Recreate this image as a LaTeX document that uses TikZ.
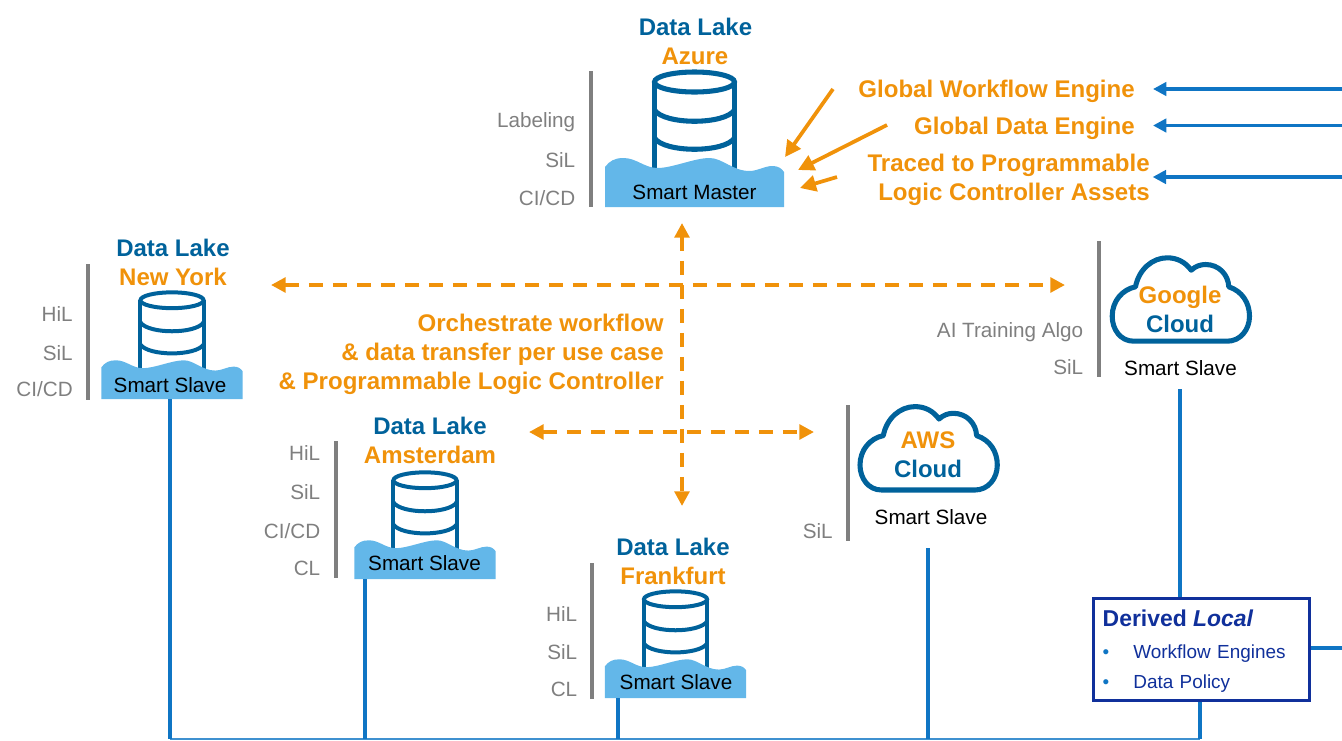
\documentclass[tikz,border=0pt]{standalone}
\usepackage{fontspec}
\setmainfont{Liberation Sans}
\usepackage{xcolor}
\usetikzlibrary{arrows.meta, positioning}
\definecolor{lakeblue}{RGB}{0,98,155}
\definecolor{waterblue}{RGB}{99,183,233}
\definecolor{lineblue}{RGB}{15,117,196}
\definecolor{accent}{RGB}{240,146,10}
\definecolor{barGray}{RGB}{127,127,127}
\definecolor{boxNavy}{RGB}{16,48,155}
\tikzstyle{title} = [font=\bfseries\fontsize{18}{18}\selectfont, text=lakeblue, inner sep=0pt]
\tikzstyle{site} = [title, text=accent]
\tikzstyle{tag} = [font=\fontsize{15.5}{15.5}\selectfont, text=barGray, anchor=east, inner sep=0pt]
\tikzstyle{role} = [font=\fontsize{15.5}{15.5}\selectfont, text=black, inner sep=0pt]
\tikzstyle{bar} = [draw=barGray, line width=2.8pt]
\tikzstyle{link} = [draw=lineblue, line width=2.6pt]
\tikzstyle{duty} = [font=\bfseries\fontsize{18.05}{21.75}\selectfont, text=accent, anchor=east, align=right, inner sep=0pt]
\tikzstyle{feed} = [line width=2.5pt, draw=lineblue, -{Triangle[length=10pt,width=10pt]}, shorten >=13.5pt]
\tikzstyle{push} = [line width=2.8pt, draw=accent, -{Triangle[length=12pt,width=12pt]}]
\tikzstyle{swap} = [line width=3pt, draw=accent, dash pattern=on 11pt off 7pt, {Triangle[length=11pt,width=11pt]}-{Triangle[length=11pt,width=11pt]}]
\tikzset{
  pics/lake/.style={code={
    \draw[lakeblue] (-40,-35) -- (-40,-125) (40,-125) -- (40,-35);
    \draw[lakeblue] (0,-125) ellipse [x radius=40, y radius=10];
    \draw[lakeblue] (-40,-97) .. controls (-30,-82) and (30,-82) .. (40,-97);
    \draw[lakeblue] (-40,-69) .. controls (-30,-54) and (30,-54) .. (40,-69);
    \fill[waterblue] (-89.5,0) -- (-89.5,-40) .. controls (-85,-46) and (-80,-49) .. (-71,-49)
      .. controls (-58,-49) and (-50,-39) .. (-37,-39) .. controls (-22,-39) and (0,-49) .. (15,-49)
      .. controls (28,-49) and (38,-36) .. (55,-36) .. controls (63,-36) and (70,-41) .. (78,-41)
      .. controls (83,-41) and (87,-39) .. (89.5,-35) -- (89.5,0) -- cycle;
  }},
  pics/cloud/.style={code={
    \draw[lakeblue, line width=3.8pt, line join=round] (-46.7,41.7) .. controls (-60,41.7) and (-68.3,30) .. (-68.3,16.7)
      .. controls (-68.3,1.7) and (-58.3,-10) .. (-45,-12.7) .. controls (-41.7,-30) and (-28.3,-41.7) .. (-13.3,-41.7)
      .. controls (-3.3,-41.7) and (5,-37.3) .. (10.7,-29.3) .. controls (15,-33.3) and (20,-35) .. (25,-35)
      .. controls (38.3,-35) and (47.7,-25) .. (48.3,-12.7) .. controls (61.7,-8.3) and (69,3.3) .. (69,16.7)
      .. controls (69,30) and (60,41.7) .. (46.7,41.7) -- cycle;
  }}
}

\begin{document}
\begin{tikzpicture}[x=0.75pt, y=-0.75pt]
    \useasboundingbox (0,0) rectangle (1342,740);

    % Bottom bus and drops
    \coordinate (bus_start) at (170,739);
    \coordinate (bus_end) at (1200,739);
    \draw[draw=lineblue!80, line width=1.6pt] (bus_start) -- (bus_end);

    % Master: Azure
    \node[title] (azure_title) at (695.5,27) {Data Lake};
    \node[site] (azure_site) at (695,56) {Azure};
    \pic[line width=3.8pt] (azure) at (694.5,207) {lake};
    \node[role] (azure_role) at (694.5,192) {Smart Master};
    \coordinate (azure_bar_a) at (591,71);
    \coordinate (azure_bar_b) at (591,207);
    \draw[bar] (azure_bar_a) -- (azure_bar_b);
    \node[tag] (azure_tag_a) at (575.5,122) {Labeling};
    \node[tag] (azure_tag_b) at (575.5,160) {SiL};
    \node[tag] (azure_tag_c) at (575.5,198) {CI/CD};

    % Slave: New York
    \node[title] (ny_title) at (173,247.5) {Data Lake};
    \node[site] (ny_site) at (173,277) {New York};
    \pic[scale=0.79, line width=3pt] (ny) at (172,399) {lake};
    \node[role] (ny_role) at (170,385) {Smart Slave};
    \coordinate (ny_bar_a) at (88,264);
    \coordinate (ny_bar_b) at (88,400);
    \coordinate (ny_foot) at (170,399);
    \draw[bar] (ny_bar_a) -- (ny_bar_b);
    \node[tag] (ny_tag_a) at (73,314) {HiL};
    \node[tag] (ny_tag_b) at (73,353) {SiL};
    \node[tag] (ny_tag_c) at (73,389) {CI/CD};

    % Slave: Amsterdam
    \node[title] (ams_title) at (430,426) {Data Lake};
    \node[site] (ams_site) at (430,455) {Amsterdam};
    \pic[scale=0.79, line width=3pt] (ams) at (425,579) {lake};
    \node[role] (ams_role) at (424.5,563) {Smart Slave};
    \coordinate (ams_bar_a) at (336,441);
    \coordinate (ams_bar_b) at (336,578);
    \coordinate (ams_foot) at (365,579);
    \draw[bar] (ams_bar_a) -- (ams_bar_b);
    \node[tag] (ams_tag_a) at (320.5,453) {HiL};
    \node[tag] (ams_tag_b) at (320.5,492) {SiL};
    \node[tag] (ams_tag_c) at (320.5,531) {CI/CD};
    \node[tag] (ams_tag_d) at (320.5,568) {CL};

    % Slave: Frankfurt
    \node[title] (fra_title) at (673,547) {Data Lake};
    \node[site] (fra_site) at (673,576) {Frankfurt};
    \pic[scale=0.79, line width=3pt] (fra) at (675.5,698) {lake};
    \node[role] (fra_role) at (676,682) {Smart Slave};
    \coordinate (fra_bar_a) at (592,563);
    \coordinate (fra_bar_b) at (592,699);
    \coordinate (fra_foot) at (618,698);
    \draw[bar] (fra_bar_a) -- (fra_bar_b);
    \node[tag] (fra_tag_a) at (577.5,614) {HiL};
    \node[tag] (fra_tag_b) at (577.5,652) {SiL};
    \node[tag] (fra_tag_c) at (577.5,689) {CL};

    % Clouds
    \pic (aws) at (928.3,448.3) {cloud};
    \node[site] (aws_site) at (928,440) {AWS};
    \node[title] (aws_title) at (928,469) {Cloud};
    \node[role] (aws_role) at (931,517.5) {Smart Slave};
    \coordinate (aws_bar_a) at (848,405);
    \coordinate (aws_bar_b) at (848,541);
    \coordinate (aws_foot) at (928,548);
    \draw[bar] (aws_bar_a) -- (aws_bar_b);
    \node[tag] (aws_tag_a) at (833,531) {SiL};

    \pic (gcp) at (1180.5,299.5) {cloud};
    \node[site] (gcp_site) at (1180,297) {Google};
    \node[title] (gcp_title) at (1180,324) {Cloud};
    \node[role] (gcp_role) at (1180.5,368) {Smart Slave};
    \coordinate (gcp_bar_a) at (1099,241);
    \coordinate (gcp_bar_b) at (1099,377);
    \coordinate (gcp_foot) at (1180,389);
    \draw[bar] (gcp_bar_a) -- (gcp_bar_b);
    \node[tag] (gcp_tag_a) at (1083.5,332.5) {AI Training Algo};
    \node[tag] (gcp_tag_b) at (1083.5,367) {SiL};

    % Derived box
    \node (derived) [draw=boxNavy, line width=2.8pt, fill=white, anchor=north west, minimum width=216*0.75pt, minimum height=102*0.75pt, inner xsep=6.5pt, inner ysep=0pt, text width=148pt, align=left, text=boxNavy, font=\fontsize{14.2}{22.5}\selectfont] at (1091.5,596.5)
        {{\bfseries\fontsize{17.2}{24}\selectfont\rule{0pt}{15pt}Derived \textit{Local}}\\[1pt]
         \makebox[23pt][l]{\textcolor{lineblue}{\textbullet}}Workflow Engines\\
         \makebox[23pt][l]{\textcolor{lineblue}{\textbullet}}Data Policy};
    \coordinate (edge_derived) at (1342,648);
    \draw[link] (gcp_foot) -- (gcp_foot |- derived.north);
    \draw[link] (derived.south -| bus_end) -- (bus_end);
    \draw[link] (derived.east |- edge_derived) -- (edge_derived);

    % Drops to the bus
    \draw[link] (ny_foot) -- (ny_foot |- bus_start);
    \draw[link] (ams_foot) -- (ams_foot |- bus_start);
    \draw[link] (fra_foot) -- (fra_foot |- bus_start);
    \draw[link] (aws_foot) -- (aws_foot |- bus_start);

    % Global engines
    \node[duty] (gwe) at (1135,91) {Global Workflow Engine};
    \node[duty] (gde) at (1135,128) {Global Data Engine};
    \node[duty] (plc) at (1150,179.5) {Traced to Programmable\\Logic Controller Assets};
    \coordinate (edge_gwe) at (1342,89);
    \coordinate (edge_gde) at (1342,125.5);
    \coordinate (edge_plc) at (1342,177);
    \draw[feed] (edge_gwe) -- (gwe.east |- edge_gwe);
    \draw[feed] (edge_gde) -- (gde.east |- edge_gde);
    \draw[feed, shorten >=2pt] (edge_plc) -- (plc.east |- edge_plc);

    \coordinate (gwe_from) at (833,89);
    \coordinate (gwe_to) at (785,157);
    \coordinate (gde_from) at (887,125);
    \coordinate (gde_to) at (798,170);
    \coordinate (plc_from) at (837,177);
    \coordinate (plc_to) at (800,188);
    \draw[push] (gwe_from) -- (gwe_to);
    \draw[push] (gde_from) -- (gde_to);
    \draw[push] (plc_from) -- (plc_to);

    % Orchestration
    \node[duty] (orchestrate) at (664,354) {Orchestrate workflow\\\& data transfer per use case\\\& Programmable Logic Controller};
    \coordinate (swap_w) at (271,285);
    \coordinate (swap_e) at (1065,285);
    \coordinate (swap_n) at (682,223);
    \coordinate (swap_s) at (682,506);
    \coordinate (swap_sw) at (529,432);
    \coordinate (swap_se) at (814,432);
    \draw[swap] (swap_w) -- (swap_e);
    \draw[swap] (swap_n) -- (swap_s);
    \draw[swap] (swap_sw) -- (swap_se);
\end{tikzpicture}
\end{document}
